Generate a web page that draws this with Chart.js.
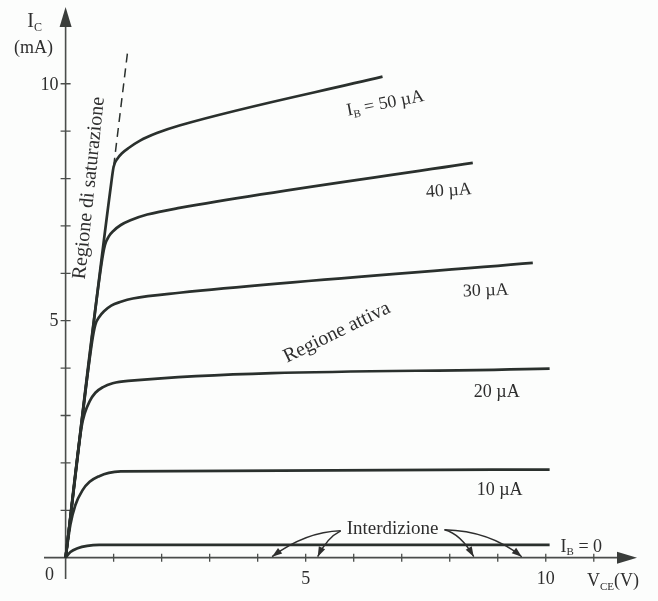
<!DOCTYPE html>
<html>
<head>
<meta charset="utf-8">
<title>Caratteristiche di uscita BJT</title>
<script src="https://cdn.jsdelivr.net/npm/chart.js@4.4.1/dist/chart.umd.min.js"></script>
<style>
 html, body { margin: 0; padding: 0; background: #fcfdfc; }
 #wrap { width: 658px; height: 601px; }
</style>
</head>
<body>
<div id="wrap"><canvas id="outputChart" width="658" height="601"></canvas></div>
<script>
// output characteristics, VCE in V and IC in mA
var vceIb0 = [0, 0.1, 0.25, 0.45, 0.7, 10.08];
var icIb0 = [0, 0.12, 0.2, 0.25, 0.27, 0.27];

var vceIb10 = [0, 0.1, 0.2, 0.35, 0.5, 0.7, 0.9, 1.15, 10.08];
var icIb10 = [0, 0.7, 1.1, 1.42, 1.6, 1.72, 1.79, 1.82, 1.86];

var vceIb20 = [0, 0.33, 0.4, 0.5, 0.62, 0.78, 0.98, 1.3, 10.08];
var icIb20 = [0, 2.75, 3.05, 3.3, 3.48, 3.6, 3.68, 3.73, 3.99];

var vceIb30 = [0, 0.55, 0.62, 0.7, 0.8, 0.95, 1.15, 1.4, 2.37, 9.73];
var icIb30 = [0, 4.55, 4.92, 5.08, 5.2, 5.32, 5.4, 5.47, 5.59, 6.22];

var vceIb40 = [0, 0.75, 0.82, 0.9, 1.0, 1.15, 1.35, 1.7, 2.37, 8.48];
var icIb40 = [0, 6.22, 6.6, 6.78, 6.9, 7.02, 7.12, 7.24, 7.38, 8.33];

var vceIb50 = [0, 0.95, 1.0, 1.08, 1.18, 1.32, 1.55, 1.9, 2.37, 6.6];
var icIb50 = [0, 7.9, 8.25, 8.42, 8.54, 8.65, 8.8, 8.96, 9.12, 10.15];

// dashed continuation of the saturation line
var vceSat = [1.0, 1.3];
var icSat = [8.25, 10.75];

var xTicks = [1, 2, 3, 4, 5, 6, 7, 8, 9, 10, 11];
var yTicks = [1, 2, 3, 4, 5, 6, 7, 8, 9, 10];
var xTickLabels = [5, 10];
var yTickLabels = [5, 10];

var curveLabels = ["I_B = 50 µA", "40 µA", "30 µA", "20 µA", "10 µA", "I_B = 0"];
var cutoffVce = [4.3, 5.25, 8.5, 9.5];

var lineColor = "#2a302d";
var inkColor = "#2e2e2e";
var serif = '"Liberation Serif", "DejaVu Serif", serif';

function toPoints(xs, ys) {
 return xs.map(function (x, i) {
  return { x: x, y: ys[i] };
 });
}

function curve(xs, ys) {
 return {
  data: toPoints(xs, ys),
  showLine: true,
  borderColor: lineColor,
  borderWidth: 2.7,
  pointRadius: 0,
  cubicInterpolationMode: "monotone",
  fill: false,
 };
}

// "I_B" style text: the letters after "_" become a subscript
function splitSub(txt) {
 var m = txt.match(/^(\w)_(\w+)(.*)$/);
 if (!m) return [[txt, false]];
 return [[m[1], false], [m[2], true], [m[3], false]];
}

function drawRich(ctx, parts, cx, cy, angle, size) {
 ctx.save();
 ctx.translate(cx, cy);
 ctx.rotate((angle * Math.PI) / 180);
 ctx.fillStyle = inkColor;
 ctx.textBaseline = "middle";
 ctx.textAlign = "left";
 var w = 0;
 parts.forEach(function (p) {
  ctx.font = (p[1] ? Math.round(size * 0.6) : size) + "px " + serif;
  w += ctx.measureText(p[0]).width;
 });
 var x = -w / 2;
 parts.forEach(function (p) {
  ctx.font = (p[1] ? Math.round(size * 0.6) : size) + "px " + serif;
  ctx.fillText(p[0], x, p[1] ? size * 0.28 : 0);
  x += ctx.measureText(p[0]).width;
 });
 ctx.restore();
}

function arrowHead(ctx, tx, ty, fromX, fromY) {
 var a = Math.atan2(ty - fromY, tx - fromX);
 var len = 10, half = 3.5;
 ctx.beginPath();
 ctx.moveTo(tx, ty);
 ctx.lineTo(tx - len * Math.cos(a) + half * Math.sin(a), ty - len * Math.sin(a) - half * Math.cos(a));
 ctx.lineTo(tx - len * Math.cos(a) - half * Math.sin(a), ty - len * Math.sin(a) + half * Math.cos(a));
 ctx.closePath();
 ctx.fill();
}

var axesPlugin = {
 id: "axesPlugin",
 beforeDatasetsDraw: function (chart) {
  var ctx = chart.ctx;
  var xs = chart.scales.x, ys = chart.scales.y;
  var x0 = xs.getPixelForValue(0), y0 = ys.getPixelForValue(0);
  var left = chart.chartArea.left, right = chart.chartArea.right;
  var top = chart.chartArea.top, bottom = chart.chartArea.bottom;

  ctx.save();
  ctx.strokeStyle = "#4a4d4b";
  ctx.fillStyle = "#3a3d3b";
  ctx.lineWidth = 1.6;

  // axis lines
  ctx.beginPath();
  ctx.moveTo(left, y0);
  ctx.lineTo(right - 6, y0);
  ctx.moveTo(x0, bottom);
  ctx.lineTo(x0, top + 6);
  ctx.stroke();

  // arrow heads
  ctx.beginPath();
  ctx.moveTo(right, y0);
  ctx.lineTo(right - 20, y0 - 6);
  ctx.lineTo(right - 20, y0 + 6);
  ctx.closePath();
  ctx.fill();
  ctx.beginPath();
  ctx.moveTo(x0, top);
  ctx.lineTo(x0 - 6, top + 20);
  ctx.lineTo(x0 + 6, top + 20);
  ctx.closePath();
  ctx.fill();

  // tick marks crossing the axes
  ctx.lineWidth = 1.3;
  ctx.beginPath();
  xTicks.forEach(function (v) {
   var px = xs.getPixelForValue(v);
   ctx.moveTo(px, y0 - 4);
   ctx.lineTo(px, y0 + 4);
  });
  yTicks.forEach(function (v) {
   var py = ys.getPixelForValue(v);
   ctx.moveTo(x0 - 5, py);
   ctx.lineTo(x0 + 5, py);
  });
  ctx.stroke();

  // tick labels
  ctx.fillStyle = inkColor;
  ctx.font = "18px " + serif;
  ctx.textBaseline = "middle";
  ctx.textAlign = "center";
  xTickLabels.forEach(function (v) {
   ctx.fillText(String(v), xs.getPixelForValue(v), y0 + 22);
  });
  ctx.textAlign = "right";
  yTickLabels.forEach(function (v) {
   ctx.fillText(String(v), x0 - 7, ys.getPixelForValue(v) + 1);
  });
  ctx.textAlign = "center";
  ctx.fillText("0", x0 - 16, y0 + 18);
  ctx.restore();

  // axis titles
  drawRich(ctx, [["I", false], ["C", true]], x0 - 31, top + 15, 0, 20);
  drawRich(ctx, [["(mA)", false]], x0 - 32, top + 41, 0, 18);
  drawRich(ctx, [["V", false], ["CE", true], ["(V)", false]], right - 24, y0 + 24, 0, 18);
 },
 afterDatasetsDraw: function (chart) {
  var ctx = chart.ctx;
  var xs = chart.scales.x, ys = chart.scales.y;
  function px(v) { return xs.getPixelForValue(v); }
  function py(v) { return ys.getPixelForValue(v); }

  // curve labels
  drawRich(ctx, splitSub(curveLabels[0]), px(6.66), py(9.58), -11, 18);
  drawRich(ctx, splitSub(curveLabels[1]), px(7.98), py(7.74), -4, 18);
  drawRich(ctx, splitSub(curveLabels[2]), px(8.75), py(5.63), -2, 18);
  drawRich(ctx, splitSub(curveLabels[3]), px(8.98), py(3.48), 0, 18);
  drawRich(ctx, splitSub(curveLabels[4]), px(9.04), py(1.43), 0, 18);
  drawRich(ctx, splitSub(curveLabels[5]), px(10.74), py(0.23), 0, 18);

  // regions
  drawRich(ctx, [["Regione attiva", false]], px(5.65), py(4.75), -26, 20);
  drawRich(ctx, [["Regione di saturazione", false]], px(0.49), py(7.8), -84, 20);

  // cut-off label and its arrows
  var tx = px(6.81), ty = py(0.61);
  drawRich(ctx, [["Interdizione", false]], tx, ty, 0, 19);
  ctx.save();
  ctx.font = "19px " + serif;
  var half = ctx.measureText("Interdizione").width / 2;
  ctx.strokeStyle = inkColor;
  ctx.fillStyle = inkColor;
  ctx.lineWidth = 1.4;
  var sL = { x: tx - half - 6, y: ty + 2 };
  var sR = { x: tx + half + 6, y: ty + 1 };
  var ctrl = [
   { s: sL, cx: -35, cy: 1 },
   { s: sL, cx: -14, cy: 7 },
   { s: sR, cx: 16, cy: 4 },
   { s: sR, cx: 45, cy: 1 },
  ];
  cutoffVce.forEach(function (v, i) {
   var endX = px(v), endY = py(0) - 1;
   var c = ctrl[i];
   var cx = c.s.x + c.cx, cy = c.s.y + c.cy;
   ctx.beginPath();
   ctx.moveTo(c.s.x, c.s.y);
   ctx.quadraticCurveTo(cx, cy, endX, endY);
   ctx.stroke();
   arrowHead(ctx, endX, endY, cx, cy);
  });
  ctx.restore();
 },
};

var satLine = curve(vceSat, icSat);
satLine.borderDash = [9, 6];
satLine.borderWidth = 1.5;
satLine.cubicInterpolationMode = "default";

var chartDiv = document.getElementById("outputChart");

new Chart(chartDiv, {
 type: "scatter",
 data: {
  datasets: [
   curve(vceIb0, icIb0),
   curve(vceIb10, icIb10),
   curve(vceIb20, icIb20),
   curve(vceIb30, icIb30),
   curve(vceIb40, icIb40),
   curve(vceIb50, icIb50),
   satLine,
  ],
 },
 options: {
  responsive: false,
  animation: false,
  layout: {
   padding: { left: 44, right: 21, top: 7, bottom: 22 },
  },
  plugins: {
   legend: { display: false },
   tooltip: { enabled: false },
  },
  scales: {
   x: { type: "linear", min: -0.45, max: 11.9, display: false },
   y: { type: "linear", min: -0.45, max: 11.62, display: false },
  },
 },
 plugins: [axesPlugin],
});
</script>
</body>
</html>
